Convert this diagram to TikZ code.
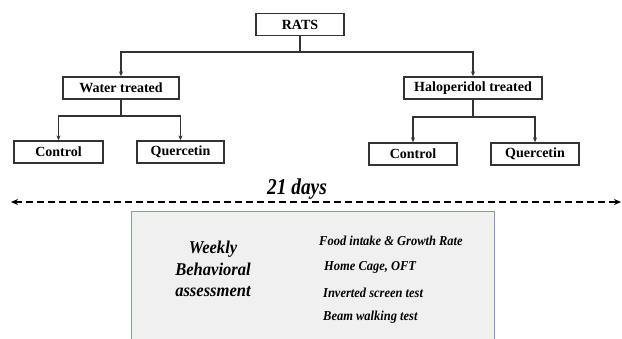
\documentclass[tikz,border=0pt]{standalone}
\usepackage{fontspec}
\setmainfont{Liberation Serif}
\usetikzlibrary{arrows.meta}
\definecolor{linegray}{HTML}{333333}
\definecolor{panelfill}{HTML}{F0F0F0}
\definecolor{panelborder}{HTML}{7F9CC0}
\tikzset{
  grpbox/.style={draw=linegray, line width=1.3pt, fill=white, inner sep=0pt,
    minimum height=22pt, font=\fontsize{14}{16}\selectfont\bfseries},
  conn/.style={draw=linegray, line width=1.1pt},
  connarrow/.style={conn, -{Stealth[length=5pt,width=4pt]}},
  dasharrow/.style={draw=black, line width=1.9pt, dash pattern=on 7pt off 4pt,
    {Stealth[length=7pt,width=6pt]}-{Stealth[length=7pt,width=6pt]}},
  bigital/.style={font=\fontsize{18}{21.5}\selectfont\bfseries\itshape, align=center, inner sep=0pt},
  itemtext/.style={font=\fontsize{13}{15}\selectfont\bfseries\itshape, anchor=west, inner sep=0pt},
}
\begin{document}
\begin{tikzpicture}[x=1pt,y=-1pt]
\useasboundingbox (0,0) rectangle (622,339);

% group boxes
\node[grpbox, minimum width=88pt] (rats) at (300,24.5) {RATS};
\node[grpbox, minimum width=116pt] (water) at (121,88) {Water treated};
\node[grpbox, minimum width=138pt] (halo) at (473,88) {Haloperidol treated};
\node[grpbox, minimum width=89pt] (ctlL) at (58.5,152) {Control};
\node[grpbox, minimum width=87pt] (qrcL) at (180.5,152) {Quercetin};
\node[grpbox, minimum width=88pt] (ctlR) at (413,154) {Control};
\node[grpbox, minimum width=88pt] (qrcR) at (535,154) {Quercetin};

% connectors
\coordinate (j0) at (300,52);
\draw[conn] (rats.south) -- (j0);
\draw[connarrow] (j0) -| (water.north);
\draw[connarrow] (j0) -| (halo.north);

\coordinate (j1) at (121,116);
\draw[conn] (water.south) -- (j1);
\draw[connarrow] (j1) -| (ctlL.north);
\draw[connarrow] (j1) -| (qrcL.north);

\coordinate (j2) at (473,117);
\draw[conn] (halo.south) -- (j2);
\draw[connarrow] (j2) -| (ctlR.north);
\draw[connarrow] (j2) -| (qrcR.north);

% timeline
\coordinate (tl) at (11,202);
\coordinate (tr) at (621,202);
\draw[dasharrow] (tl) -- (tr);
\node[font=\fontsize{21}{24}\selectfont\bfseries\itshape, inner sep=0pt] (days) at (297,189) {\scalebox{0.92}[1.08]{21 days}};

% assessment panel
\fill[panelfill] (131,211) rectangle (494,339);
\draw[panelborder, line width=0.9pt] (131,339) -- (131,211) -- (494,211) -- (494,339);

\node[bigital] (weekly) at (213,269) {\scalebox{0.92}[1]{Weekly}\\\scalebox{0.92}[1]{Behavioral}\\\scalebox{0.92}[1]{assessment}};

\node[itemtext] (i1) at (319,241) {\scalebox{0.96}[1.05]{Food intake \& Growth Rate}};
\node[itemtext] (i2) at (324,267) {\scalebox{0.96}[1.05]{Home Cage, OFT}};
\node[itemtext] (i3) at (323,293) {\scalebox{0.96}[1.05]{Inverted screen test}};
\node[itemtext] (i4) at (323,317) {\scalebox{0.96}[1.05]{Beam walking test}};
\end{tikzpicture}
\end{document}
